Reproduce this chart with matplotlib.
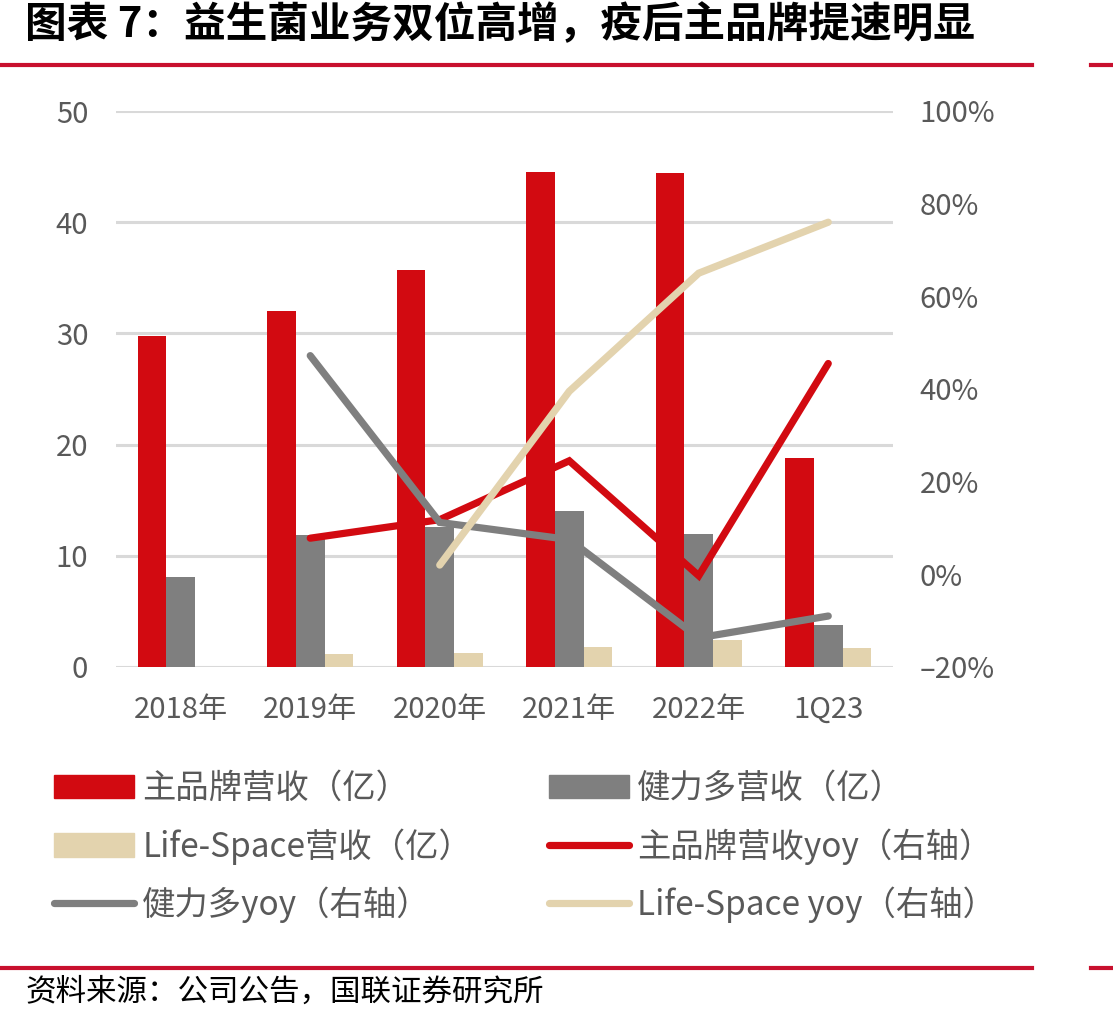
import matplotlib.pyplot as plt
from matplotlib.patches import Patch
from matplotlib.lines import Line2D
import numpy as np

plt.rcParams['font.family'] = ['Noto Sans CJK SC', 'DejaVu Sans']

# data
years = ['2018年', '2019年', '2020年', '2021年', '2022年', '1Q23']
main_rev = [29.8, 32.0, 35.7, 44.5, 44.4, 18.8]
jld_rev = [8.1, 11.9, 12.6, 14.0, 12.0, 3.8]
ls_rev = [0.0, 1.2, 1.25, 1.8, 2.4, 1.7]
main_yoy = [None, 0.078, 0.118, 0.245, -0.003, 0.455]
jld_yoy = [None, 0.472, 0.112, 0.075, -0.137, -0.09]
ls_yoy = [None, None, 0.02, 0.395, 0.65, 0.76]
left_ticks = [0, 10, 20, 30, 40, 50]
right_ticks = [-0.2, 0, 0.2, 0.4, 0.6, 0.8, 1.0]
right_labels = ['\u201320%', '0%', '20%', '40%', '60%', '80%', '100%']

RED = '#D20A11'
GRAY = '#7F7F7F'
BEIGE = '#E3D3AE'
RULE = '#C8102E'
TXT = '#595959'


def yoy_series(vals):
    x = [i for i, v in enumerate(vals) if v is not None]
    y = [v for v in vals if v is not None]
    return x, y


def main():
    fig = plt.figure(figsize=(11.13, 10.21), dpi=100)
    ax = fig.add_axes([116 / 1113, 1 - 667 / 1021, 777 / 1113, 556 / 1021])
    ax2 = ax.twinx()

    x = np.arange(len(years))
    w = 0.222
    ax.bar(x - w, main_rev, w, color=RED, zorder=2)
    ax.bar(x, jld_rev, w, color=GRAY, zorder=2)
    ax.bar(x + w, ls_rev, w, color=BEIGE, zorder=2)

    ax.set_ylim(0, 50)
    ax.set_xlim(-0.5, len(years) - 0.5)
    ax.set_yticks(left_ticks)
    ax.yaxis.grid(True, color='#D9D9D9', lw=2.2)
    ax.set_axisbelow(True)
    ax.set_xticks(x)
    ax.set_xticklabels(years)
    ax.tick_params(length=0, labelsize=21, colors=TXT, pad=20)
    ax.tick_params(axis='x', pad=20)

    for xs, ys, c in [(*yoy_series(main_yoy), RED),
                      (*yoy_series(jld_yoy), GRAY),
                      (*yoy_series(ls_yoy), BEIGE)]:
        ax2.plot(xs, ys, color=c, lw=5.2, solid_capstyle='round',
                 solid_joinstyle='miter')
    ax2.set_ylim(-0.2, 1.0)
    ax2.set_yticks(right_ticks)
    ax2.set_yticklabels(right_labels)
    ax2.tick_params(length=0, labelsize=21, colors=TXT, pad=19)

    for a in (ax, ax2):
        for s in a.spines.values():
            s.set_visible(False)

    # legend, column-wise order so rows read like the reference
    handles = [
        Patch(color=RED, label='主品牌营收（亿）'),
        Patch(color=BEIGE, label='Life-Space营收（亿）'),
        Line2D([], [], color=GRAY, lw=5.2, solid_capstyle='round', label='健力多yoy（右轴）'),
        Patch(color=GRAY, label='健力多营收（亿）'),
        Line2D([], [], color=RED, lw=5.2, solid_capstyle='round', label='主品牌营收yoy（右轴）'),
        Line2D([], [], color=BEIGE, lw=5.2, solid_capstyle='round', label='Life-Space yoy（右轴）'),
    ]
    leg = fig.legend(handles=handles, ncol=2, loc='upper left',
                     bbox_to_anchor=(24 / 1113, 1 - 741 / 1021),
                     frameon=False, fontsize=24, handlelength=2.4,
                     handletextpad=0.25, columnspacing=2.3, labelspacing=0.66)
    for t in leg.get_texts():
        t.set_color(TXT)

    fig.text(25 / 1113, 1 - 25 / 1021, '图表 7：益生菌业务双位高增，疫后主品牌提速明显',
             fontsize=30, fontweight='heavy', color='black', va='center')
    fig.text(25 / 1113, 1 - 992 / 1021, '资料来源：公司公告，国联证券研究所',
             fontsize=22, color='black', va='center')

    for yy in (65, 968):
        fig.add_artist(Line2D([0, 1032 / 1113], [1 - yy / 1021] * 2, color=RULE, lw=3))
        fig.add_artist(Line2D([1091 / 1113, 1], [1 - yy / 1021] * 2, color=RULE, lw=3))

    fig.savefig('out.png', dpi=100)


if __name__ == "__main__":
    main()
